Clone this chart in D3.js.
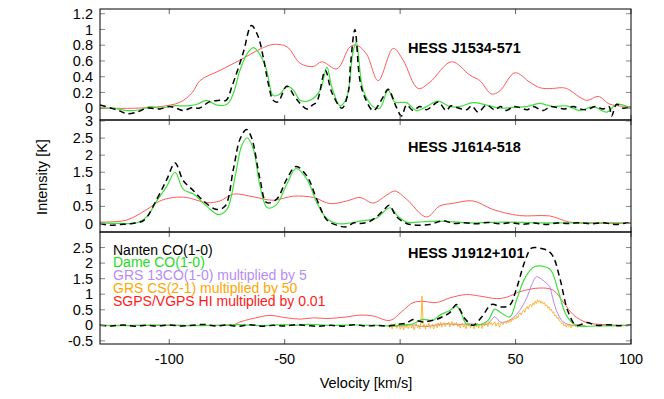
<!DOCTYPE html>
<html>
<head>
<meta charset="utf-8">
<script src="https://cdn.jsdelivr.net/npm/d3@7"></script>
<style>
  body { margin: 0; background: #fff; }
  svg { font-family: "Liberation Sans", Arial, sans-serif; }
</style>
</head>
<body>
<svg width="664" height="399"></svg>
<script>
// velocity [km/s], intensity [K]
var j1534_nanten = [[-130,0.04],[-125,0.0],[-121,-0.04],[-118.5,-0.07],[-114,-0.05],[-109.7,0],[-104,-0.01],[-100,0.02],[-97,0.0],[-93.9,-0.03],[-90,0.01],[-87,0.0],[-82.7,0.08],[-78.3,0.1],[-75.4,0.1],[-72.7,0.29],[-68,0.7],[-64.4,1.05],[-61.5,0.91],[-59.3,0.65],[-57,0.3],[-55,0.1],[-52.9,0.08],[-49.1,0.28],[-45.5,0.14],[-43,0.05],[-40.4,-0.01],[-38,0.04],[-36.1,0.08],[-32.4,0.48],[-29.6,0.2],[-25.2,0],[-22.5,0.2],[-21.5,0.55],[-19.6,1.0],[-17.4,0.35],[-15.3,0.14],[-11.7,-0.03],[-7.4,0.14],[-5.2,0.24],[-1.6,0.01],[0.6,-0.1],[2.8,0.04],[5.6,-0.03],[8.5,0.02],[11.4,-0.02],[14,0.03],[16.5,0.08],[20,-0.03],[22,0.03],[24.4,0.01],[28.7,-0.02],[31,0.03],[33.8,-0.05],[37.4,0.04],[41,-0.02],[43.5,0.02],[46,-0.03],[49,0.02],[51.8,0.01],[55,-0.02],[57.6,0.02],[62,-0.03],[65,0.02],[67.7,0.01],[71,-0.01],[75,0.02],[78,-0.01],[80.8,-0.02],[84.5,0.02],[88,-0.01],[90.5,0.02],[91.6,-0.1],[93.8,0.05],[96.6,0.0],[100,0.02]];
var j1534_dame = [[-130,0.0],[-124,0.0],[-118.5,-0.03],[-112.7,-0.02],[-108.3,0.02],[-104,0.0],[-98.2,0.03],[-92.4,0.03],[-88,0.05],[-83.7,0.1],[-79.4,0.04],[-75,0.05],[-72.2,0.19],[-69.4,0.48],[-66.5,0.68],[-63.6,0.77],[-60.7,0.68],[-57.8,0.48],[-55,0.16],[-52,0.18],[-49.1,0.28],[-46.2,0.23],[-43.3,0.1],[-39,0.1],[-34.6,0.23],[-31.7,0.52],[-29.6,0.27],[-26,0.03],[-23.1,0.14],[-20.5,0.7],[-19,0.84],[-16,0.23],[-11.7,0.02],[-8.8,0.0],[-5.2,0.23],[-2.3,0.08],[2.8,0.07],[7.1,-0.03],[11.4,0.02],[16.5,0.09],[21.5,0.02],[25.8,0.02],[31.6,0.07],[37.4,0.04],[43.2,0.0],[48.9,0.01],[54.7,0.02],[60.5,0.06],[66.3,0.02],[72,0.03],[77.9,-0.03],[83.7,0.02],[89.5,-0.05],[93.8,0.05],[100,0.0]];
var j1534_hi = [[-130,0],[-115,0],[-104,0.02],[-95.4,0.075],[-90,0.2],[-86.7,0.35],[-78,0.48],[-69.4,0.61],[-60.7,0.75],[-55,0.81],[-49,0.78],[-43.3,0.57],[-37.5,0.53],[-33.9,0.59],[-27.4,0.5],[-21.7,0.78],[-18.9,0.8],[-14.6,0.69],[-9.5,0.35],[-3,0.76],[1.3,0.61],[7.8,0.25],[12.9,0.33],[22.3,0.59],[30.2,0.42],[34.5,0.35],[39.6,0.18],[43.2,0.22],[49.7,0.45],[56.2,0.33],[60.5,0.26],[66,0.25],[69.2,0.26],[72.1,0.25],[80.8,0.1],[85.8,0.15],[90.9,0.05],[100,0.02]];

var j1614_nanten = [[-130,0.0],[-125.7,-0.05],[-121,-0.03],[-116,0.0],[-111,0.09],[-105.4,0.71],[-101,1.3],[-97.5,1.77],[-93.9,1.25],[-89.5,0.96],[-85.2,0.66],[-79.4,0.41],[-75.8,0.51],[-72.2,1.6],[-69.3,2.48],[-66.5,2.75],[-64.3,2.5],[-60.7,1.3],[-57.8,0.61],[-53.5,0.71],[-49.1,1.3],[-45.1,1.67],[-40.4,1.39],[-36.1,0.71],[-31.7,0.1],[-27.4,-0.05],[-23.2,-0.1],[-20,0.02],[-17.4,0.0],[-13.5,0.05],[-10.1,0.2],[-7,0.4],[-4.7,0.53],[-1.6,0.2],[2.8,0.0],[7.1,-0.05],[12.9,-0.03],[18.6,0.08],[23,0.0],[28,0.02],[33,-0.01],[38,0.03],[43,-0.01],[48,0.02],[53,-0.02],[58,0.01],[63,-0.03],[68,0.01],[73,0.0],[78,0.02],[83,-0.01],[88,0.02],[93,-0.03],[98,0.01],[100,0.0]];
var j1614_dame = [[-130,0.02],[-121,0.0],[-113.9,0.02],[-109.7,0.2],[-105.4,0.66],[-101,1.1],[-97.5,1.5],[-93.9,1.0],[-89.5,0.86],[-83.7,0.5],[-78.7,0.26],[-75,0.41],[-71.4,1.4],[-68.6,2.28],[-66.2,2.51],[-63.6,2.18],[-60.7,1.1],[-57.5,0.46],[-53.5,0.56],[-49.1,1.15],[-45.1,1.61],[-40.4,1.3],[-36.1,0.61],[-31.7,0.14],[-27.4,0.0],[-23.1,0.0],[-17.4,0.07],[-10.1,0.16],[-7,0.35],[-4.4,0.46],[-0.8,0.2],[2.8,0.04],[10,0.05],[17.1,0.07],[30,0.02],[45,0.04],[60,0.02],[75,0.02],[90,0.0],[100,0.0]];
var j1614_hi = [[-130,0.04],[-118.5,0.1],[-109.7,0.41],[-104,0.66],[-98.2,0.76],[-92.4,0.76],[-83.7,0.61],[-78,0.66],[-72.2,0.86],[-63.6,0.78],[-55,0.68],[-46.2,0.8],[-37.5,0.76],[-30.3,0.58],[-23.1,0.66],[-17.4,0.76],[-11.7,0.6],[-5.8,0.83],[-2.3,0.95],[2.8,0.71],[11.4,0.19],[17.1,0.51],[23,0.59],[31.6,0.66],[40.2,0.41],[51.8,0.23],[64.8,0.22],[73.4,0.04],[85,0.02],[100,0.02]];

var j1912_nanten = [[-130,0.0],[-125,-0.02],[-120,0.01],[-115,-0.03],[-110,0.0],[-105,-0.02],[-100,0.01],[-95,-0.02],[-90,0.0],[-85,0.03],[-80,-0.02],[-75,0.01],[-70,-0.03],[-65,0.02],[-60,-0.03],[-55,0.0],[-50,-0.02],[-45,0.02],[-40,-0.01],[-35,-0.03],[-30,0.0],[-25,-0.03],[-20,0.02],[-15,-0.02],[-10,0.0],[-5,-0.02],[0,0.04],[3,0.08],[5.6,0.19],[8,0.14],[9.9,0.11],[13,0.14],[15.7,0.19],[18.5,0.28],[21.5,0.41],[24.4,0.67],[26,0.5],[28,0.22],[31.6,0.0],[34,0.15],[35.9,0.32],[39.6,0.67],[43.9,0.59],[47.5,0.65],[50.4,1.18],[54,2.05],[56.9,2.48],[60.5,2.48],[64,2.4],[66.3,2.21],[69.2,1.51],[72.8,0.43],[76.3,0.0],[80.8,0.09],[85,0.0],[90,0.02],[95,-0.01],[100,0.01]];
var j1912_dame = [[-130,0.0],[-120,-0.01],[-110,0.0],[-100,0.01],[-90,-0.01],[-80,0.0],[-70,0.02],[-60,-0.01],[-50,0.02],[-45,0.0],[-40,0.03],[-30,0.0],[-20,0.01],[-10,0.0],[-4,-0.02],[2.8,0.02],[5.6,0.05],[9.9,0.19],[14.2,0.16],[17.1,0.32],[21.5,0.48],[24.4,0.62],[26.5,0.38],[28.7,0.05],[34.5,0.02],[38.1,0.16],[41,0.52],[43.2,0.43],[47.5,0.27],[50.4,0.81],[54,1.51],[58.3,1.89],[64.8,1.81],[68.4,1.13],[72,0.32],[76.3,0.0],[85,-0.02],[100,0.0]];
var j1912_hi = [[-130,0.0],[-100,0.0],[-80,0.0],[-72,0.02],[-69.3,0.11],[-60.7,0.27],[-56.4,0.32],[-49.1,0.24],[-43.3,0.2],[-37.5,0.24],[-31.7,0.22],[-23.1,0.27],[-17.4,0.33],[-11.7,0.3],[-4.4,0.16],[1.3,0.48],[5.6,0.73],[9.9,0.77],[15.7,0.73],[21.5,0.88],[28.7,0.99],[34.5,0.94],[41.7,0.86],[46,0.9],[51.8,1.08],[60.5,1.2],[66.3,1.13],[70.6,0.75],[75,0.34],[80.8,0.09],[89.5,0.02],[100,0.0]];
var j1912_13co = [[-5,0.0],[0,-0.03],[5,0.02],[10,-0.04],[15,0.0],[20,0.05],[25,0.02],[30,0.05],[35,0.02],[38,0.05],[41,0.27],[43.5,0.1],[47,0.15],[49,0.25],[51.8,0.48],[54.7,0.86],[57,1.3],[59,1.56],[60.5,1.52],[61.9,1.45],[63.5,1.35],[64.8,1.24],[66,0.9],[67.7,0.48],[70.6,0.11],[75,0.0],[80,0.0]];
// GRS CS(2-1) channels: first channel velocity and channel width, then values
var csVelStart = -5, csChanWidth = 0.5;
var j1912_cs = [0.02,-0.08,0.05,-0.12,0.0,-0.05,0.06,-0.1,-0.02,0.04,-0.13,
  -0.04,0.03,-0.15,0.01,-0.07,0.05,-0.11,-0.02,0.04,-0.09,
  0.02,-0.14,-0.03,0.06,-0.08,0.0,-0.12,0.1,
  0.94,
  -0.06,0.03,-0.13,0.02,-0.05,0.07,-0.1,-0.01,0.04,-0.12,0.0,
  0.05,-0.08,0.08,-0.03,0.1,-0.06,0.04,0.09,-0.04,0.07,
  0.02,0.11,-0.05,0.06,0.12,-0.02,0.08,0.03,0.1,-0.04,
  0.05,-0.09,0.02,0.07,-0.06,0.03,-0.11,0.04,-0.03,0.06,
  -0.08,0.01,0.05,-0.12,0.03,-0.05,0.07,-0.09,0.0,0.04,
  -0.1,0.06,-0.02,0.08,0.1,-0.04,0.12,0.03,0.09,0.0,
  0.07,0.11,-0.03,0.05,0.09,-0.06,0.04,0.1,0.02,0.08,
  0.12,0.05,0.15,0.08,0.18,0.11,0.22,0.16,0.25,0.2,
  0.3,0.24,0.36,0.4,0.33,0.45,0.5,0.42,0.55,0.6,
  0.52,0.63,0.68,0.6,0.72,0.66,0.78,0.7,0.82,0.74,
  0.8,0.71,0.77,0.68,0.73,0.62,0.66,0.55,0.6,0.48,
  0.52,0.4,0.43,0.3,0.33,0.22,0.25,0.14,0.12,0.05,
  0.08,-0.02,0.03,-0.06,0.02,-0.04,0.05,-0.08,0.01,-0.03,
  0.02,-0.05,0.03,-0.07,0.0,0.04,-0.04,0.02,-0.06,0.0];

var xTicks = [-100, -50, 0, 50, 100];
var legendLabels = ["Nanten CO(1-0)", "Dame CO(1-0)", "GRS 13CO(1-0) multiplied by 5", "GRS CS(2-1) multiplied by 50", "SGPS/VGPS HI multiplied by 0.01"];

var colNanten = "#000", colDame = "#3ee03e", col13 = "#b784f5", colCS = "#ffa50f", colHI = "#ff5a5a";
var legendColors = ["#000", "#22dd22", "#b78cf6", "#ffa500", "#ff1a1a"];

var svg = d3.select("svg"),
    left = 100, right = 631;

var x = d3.scaleLinear().domain([-130, 100]).range([left, right]);

var panels = [
  {top: 9, bottom: 120, dom: [-0.15, 1.26], ticks: [0,0.2,0.4,0.6,0.8,1,1.2], title: "HESS J1534-571", titleY: 53,
   series: [{d: j1534_hi, c: colHI, w: 1}, {d: j1534_dame, c: colDame, w: 1.2}, {d: j1534_nanten, c: colNanten, w: 1.5, dash: "6,4"}]},
  {top: 120, bottom: 232, dom: [-0.25, 3.03], ticks: [0,0.5,1,1.5,2,2.5,3], title: "HESS J1614-518", titleY: 152,
   series: [{d: j1614_hi, c: colHI, w: 1}, {d: j1614_dame, c: colDame, w: 1.2}, {d: j1614_nanten, c: colNanten, w: 1.5, dash: "6,4"}]},
  {top: 232, bottom: 344, dom: [-0.6, 3.0], ticks: [-0.5,0,0.5,1,1.5,2,2.5], title: "HESS J1912+101", titleY: 258,
   series: [{d: j1912_hi, c: colHI, w: 1}, {d: j1912_13co, c: col13, w: 1},
            {d: j1912_cs.map(function(v, i) { return [csVelStart + i * csChanWidth, v]; }), c: colCS, w: 0.8, linear: true},
            {d: j1912_dame, c: colDame, w: 1.2}, {d: j1912_nanten, c: colNanten, w: 1.5, dash: "6,4"}]}
];

panels.forEach(function(p, k) {
  var y = d3.scaleLinear().domain(p.dom).range([p.bottom, p.top]);
  var g = svg.append("g");

  g.append("clipPath").attr("id", "clip" + k)
    .append("rect").attr("x", left).attr("y", p.top).attr("width", right - left).attr("height", p.bottom - p.top);

  var plot = g.append("g").attr("clip-path", "url(#clip" + k + ")");
  p.series.forEach(function(s) {
    var line = d3.line()
      .x(function(d) { return x(d[0]); })
      .y(function(d) { return y(d[1]); })
      .curve(s.linear ? d3.curveLinear : d3.curveCatmullRom.alpha(0.5));
    plot.append("path")
      .attr("d", line(s.d))
      .attr("fill", "none")
      .attr("stroke", s.c)
      .attr("stroke-width", s.w)
      .attr("stroke-dasharray", s.dash || null);
  });

  // y ticks, left and right
  g.selectAll(".yt").data(p.ticks).enter().append("line")
    .attr("x1", left).attr("x2", left + 5)
    .attr("y1", function(d) { return y(d); }).attr("y2", function(d) { return y(d); })
    .attr("stroke", "#888");
  g.selectAll(".ytr").data(p.ticks).enter().append("line")
    .attr("x1", right - 5).attr("x2", right)
    .attr("y1", function(d) { return y(d); }).attr("y2", function(d) { return y(d); })
    .attr("stroke", "#888");
  g.selectAll(".yl").data(p.ticks).enter().append("text")
    .attr("x", left - 7).attr("y", function(d) { return y(d); })
    .attr("dy", "0.35em").attr("text-anchor", "end")
    .style("font-size", "14.5px")
    .text(function(d) { return d; });

  // x ticks top and bottom
  g.selectAll(".xt").data(xTicks).enter().append("line")
    .attr("x1", function(d) { return x(d); }).attr("x2", function(d) { return x(d); })
    .attr("y1", p.top).attr("y2", p.top + 5).attr("stroke", "#666");
  g.selectAll(".xb").data(xTicks).enter().append("line")
    .attr("x1", function(d) { return x(d); }).attr("x2", function(d) { return x(d); })
    .attr("y1", p.bottom - 5).attr("y2", p.bottom).attr("stroke", "#666");

  g.append("rect")
    .attr("x", left).attr("y", p.top).attr("width", right - left).attr("height", p.bottom - p.top)
    .attr("fill", "none").attr("stroke", "#000").attr("stroke-width", 1);

  g.append("text")
    .attr("x", 408).attr("y", p.titleY)
    .style("font-size", "14.5px").style("font-weight", "bold")
    .text(p.title);
});

// legend in the bottom panel
svg.selectAll(".leg").data(legendLabels).enter().append("text")
  .attr("x", 113).attr("y", function(d, i) { return 254.5 + i * 12.9; })
  .style("font-size", "14px")
  .attr("fill", function(d, i) { return legendColors[i]; })
  .text(function(d) { return d; });

// x tick labels
svg.selectAll(".xl").data(xTicks).enter().append("text")
  .attr("x", function(d) { return x(d); }).attr("y", 364)
  .attr("text-anchor", "middle")
  .style("font-size", "14.5px")
  .text(function(d) { return d; });

svg.append("text")
  .attr("x", 366).attr("y", 388)
  .attr("text-anchor", "middle")
  .style("font-size", "14.5px")
  .text("Velocity [km/s]");

svg.append("text")
  .attr("transform", "translate(47,177) rotate(-90)")
  .attr("text-anchor", "middle")
  .style("font-size", "14.5px")
  .text("Intensity [K]");
</script>
</body>
</html>
